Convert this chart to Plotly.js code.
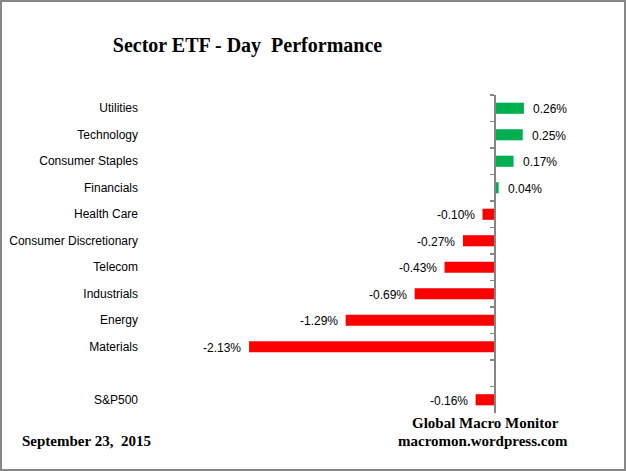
<!DOCTYPE html>
<html>
<head>
<meta charset="utf-8">
<script src="https://cdn.plot.ly/plotly-3.0.1.min.js"></script>
<style>
html,body{margin:0;padding:0;background:#fff;}
#wrap{position:relative;width:626px;height:471px;}
#chart{width:626px;height:471px;}
#frame{position:absolute;left:0;top:0;width:626px;height:471px;box-sizing:border-box;border:2px solid #878787;pointer-events:none;}
</style>
</head>
<body>
<div id="wrap"><div id="chart"></div><div id="frame"></div></div>
<script>
// Data
const categories = ["Utilities","Technology","Consumer Staples","Financials","Health Care","Consumer Discretionary","Telecom","Industrials","Energy","Materials"," ","S&P500"];
const values = [0.26, 0.25, 0.17, 0.04, -0.10, -0.27, -0.43, -0.69, -1.29, -2.13, null, -0.16];
const titleText = "Sector ETF - Day  Performance";
const dateText = "September 23,  2015";
const sourceLines = ["Global Macro Monitor", "macromon.wordpress.com"];

const GREEN = "#00B050", RED = "#FF0000", AXIS = "#868686";
const W = 626, H = 471, ML = 139, MR = 26, MT = 95, MB = 58;
const PX_PER_UNIT = 115, ZERO_PX = 494;
const xMin = (ML - ZERO_PX) / PX_PER_UNIT;
const xMax = (W - MR - ZERO_PX) / PX_PER_UNIT;
const plotW = W - ML - MR, plotH = H - MT - MB;
const px = p => (p - ML) / plotW;
const py = p => (H - MB - p) / plotH;

const labelFont = {family: "Liberation Sans, Arial, sans-serif", size: 12, color: "#000"};
const serifBold = {family: "Liberation Serif, Times New Roman, serif", size: 15, color: "#000"};

const barTrace = {
  type: "bar", orientation: "h",
  x: values, y: categories,
  marker: {color: values.map(v => (v !== null && v >= 0) ? GREEN : RED)},
  hoverinfo: "x+y", showlegend: false
};
const axisTrace = {
  type: "scatter", mode: "markers",
  x: values.map(v => v === null ? 0 : v), y: categories, yaxis: "y2",
  marker: {opacity: 0}, hoverinfo: "skip", showlegend: false
};

const annotations = [];
categories.forEach((c, i) => {
  const v = values[i];
  if (v === null) return;
  annotations.push({
    xref: "x", yref: "y", x: v, y: c,
    text: v.toFixed(2) + "%",
    showarrow: false,
    xanchor: v >= 0 ? "left" : "right",
    xshift: v >= 0 ? 7 : -6,
    yshift: -1,
    font: labelFont
  });
});
annotations.push({xref: "paper", yref: "paper", x: px(20), y: py(441), xanchor: "left", yanchor: "middle",
  text: "<b>" + dateText + "</b>", showarrow: false, font: serifBold});
annotations.push({xref: "paper", yref: "paper", x: px(485.5), y: py(423), xanchor: "center", yanchor: "middle",
  text: "<b>" + sourceLines[0] + "</b>", showarrow: false, font: serifBold});
annotations.push({xref: "paper", yref: "paper", x: px(482.5), y: py(441), xanchor: "center", yanchor: "middle",
  text: "<b>" + sourceLines[1] + "</b>", showarrow: false, font: serifBold});

const yCommon = {type: "category", categoryorder: "array", categoryarray: categories,
  range: [categories.length - 0.5, -0.5], showgrid: false, zeroline: false, fixedrange: true};

const layout = {
  width: W, height: H,
  margin: {l: ML, r: MR, t: MT, b: MB, pad: 0},
  paper_bgcolor: "#fff", plot_bgcolor: "#fff",
  title: {text: "<b>" + titleText + "</b>", x: 247.5 / W, xref: "container", xanchor: "center",
    y: 1 - 45 / H, yref: "container", yanchor: "middle",
    font: {family: "Liberation Serif, Times New Roman, serif", size: 20, color: "#000"}},
  bargap: 0.58,
  xaxis: {range: [xMin, xMax], visible: false, showgrid: false, zeroline: false, fixedrange: true},
  yaxis: Object.assign({}, yCommon, {showline: false, ticks: "", tickfont: labelFont, automargin: false}),
  yaxis2: Object.assign({}, yCommon, {overlaying: "y", anchor: "free", position: (0 - xMin) / (xMax - xMin),
    side: "left", showline: true, linecolor: AXIS, linewidth: 1.5,
    ticks: "outside", ticklen: 4, tickwidth: 1.5, tickcolor: AXIS, tickson: "boundaries",
    showticklabels: false, automargin: false}),
  annotations: annotations,
  showlegend: false
};

Plotly.newPlot("chart", [barTrace, axisTrace], layout, {displayModeBar: false, staticPlot: true});
</script>
</body>
</html>
